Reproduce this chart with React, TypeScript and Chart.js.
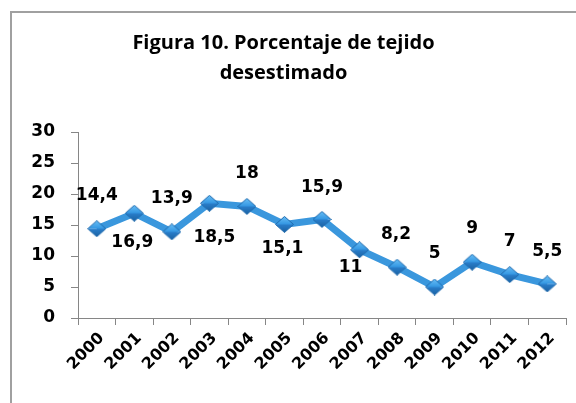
import React, { useEffect, useRef } from "react";
import { Chart, registerables } from "chart.js";

Chart.register(...registerables);

const years = ["2000", "2001", "2002", "2003", "2004", "2005", "2006", "2007", "2008", "2009", "2010", "2011", "2012"];
const porcentaje = [14.4, 16.9, 13.9, 18.5, 18, 15.1, 15.9, 11, 8.2, 5, 9, 7, 5.5];
const labelTexts = ["14,4", "16,9", "13,9", "18,5", "18", "15,1", "15,9", "11", "8,2", "5", "9", "7", "5,5"];
const titleLines = ["Figura 10. Porcentaje de tejido", "desestimado"];

// label offsets relative to each point (style only)
const labelDx = [0, -2, 0, 5, 0, -2, 0, -9, -1, 0, 0, 0, 0];
const labelDy = [-33, 29, -33, 34, -33, 24, -32, 18, -33, -33, -34, -33, -32];

const TITLE_FONT = "'Open Sans', Lato, sans-serif";
const NUM_FONT = "'DejaVu Sans', sans-serif";

function makeDiamond(): HTMLCanvasElement {
  const w = 19;
  const h = 17;
  const c = document.createElement("canvas");
  c.width = w;
  c.height = h;
  const g = c.getContext("2d")!;
  const cx = w / 2;
  const cy = h / 2;
  g.beginPath();
  g.moveTo(0.5, cy);
  g.lineTo(cx, 0.5);
  g.lineTo(w - 0.5, cy);
  g.closePath();
  const gt = g.createLinearGradient(0, 0, 0, cy);
  gt.addColorStop(0, "#6cc0f7");
  gt.addColorStop(1, "#3296e2");
  g.fillStyle = gt;
  g.fill();
  g.beginPath();
  g.moveTo(0.5, cy);
  g.lineTo(cx, h - 0.5);
  g.lineTo(w - 0.5, cy);
  g.closePath();
  const gb = g.createLinearGradient(0, cy, 0, h);
  gb.addColorStop(0, "#2a7fcc");
  gb.addColorStop(1, "#1a5f9f");
  g.fillStyle = gb;
  g.fill();
  g.beginPath();
  g.moveTo(0.5, cy);
  g.lineTo(cx, 0.5);
  g.lineTo(w - 0.5, cy);
  g.lineTo(cx, h - 0.5);
  g.closePath();
  g.strokeStyle = "#1f6aad";
  g.lineWidth = 1;
  g.stroke();
  return c;
}

const dataLabelPlugin = {
  id: "dataLabelsCustom",
  afterDatasetsDraw(chart: any) {
    const ctx = chart.ctx;
    const meta = chart.getDatasetMeta(0);
    ctx.save();
    ctx.font = `bold 17px ${NUM_FONT}`;
    ctx.fillStyle = "#000000";
    ctx.textAlign = "center";
    ctx.textBaseline = "middle";
    meta.data.forEach((pt: any, i: number) => {
      ctx.fillText(labelTexts[i], pt.x + labelDx[i], pt.y + labelDy[i]);
    });
    ctx.restore();
  },
};

export default function App() {
  const canvasRef = useRef<HTMLCanvasElement | null>(null);

  useEffect(() => {
    if (!canvasRef.current) return;
    const diamond = makeDiamond();
    const chart = new Chart(canvasRef.current, {
      type: "line",
      data: {
        labels: years,
        datasets: [
          {
            data: porcentaje,
            borderColor: "#3A97DD",
            borderWidth: 7,
            tension: 0,
            pointStyle: diamond as any,
            pointRadius: 9,
            pointHoverRadius: 9,
            pointBackgroundColor: "#2F8BD9",
            pointBorderColor: "#1E6BAF",
            pointBorderWidth: 1,
          },
        ],
      },
      options: {
        responsive: false,
        animation: false,
        layout: { padding: { left: 0, right: 9, top: 0, bottom: 0 } },
        plugins: {
          legend: { display: false },
          tooltip: { enabled: false },
          title: {
            display: true,
            text: titleLines,
            color: "#000000",
            font: { family: TITLE_FONT, size: 20, weight: "bold", lineHeight: 1.5 },
            padding: { top: 28, bottom: 44 },
          },
        },
        scales: {
          x: {
            type: "category",
            offset: true,
            grid: {
              offset: true,
              drawOnChartArea: false,
              drawTicks: true,
              tickLength: 7,
              color: "#868686",
            },
            border: { display: true, color: "#868686", width: 1 },
            ticks: {
              autoSkip: false,
              maxRotation: 45,
              minRotation: 45,
              padding: 4,
              labelOffset: 5,
              color: "#000000",
              font: { family: NUM_FONT, size: 16, weight: "bold" },
            },
            afterFit: (s: any) => {
              s.height = 85;
            },
          },
          y: {
            min: 0,
            max: 30,
            ticks: {
              stepSize: 5,
              padding: 16,
              color: "#000000",
              font: { family: NUM_FONT, size: 17, weight: "bold" },
            },
            grid: {
              drawOnChartArea: false,
              drawTicks: true,
              tickLength: 7,
              color: "#868686",
            },
            border: { display: true, color: "#868686", width: 1 },
            afterFit: (s: any) => {
              s.width = 78;
            },
          },
        },
      },
      plugins: [dataLabelPlugin],
    });
    return () => chart.destroy();
  }, []);

  return (
    <div
      style={{
        position: "fixed",
        left: 0,
        top: 0,
        width: 576,
        height: 403,
        background: "#ffffff",
        overflow: "hidden",
      }}
    >
      <div
        style={{
          position: "absolute",
          left: 10,
          top: 11,
          width: 700,
          height: 600,
          borderLeft: "2px solid #a0a0a0",
          borderTop: "2px solid #a0a0a0",
        }}
      />
      <canvas
        ref={canvasRef}
        width={576}
        height={403}
        style={{ position: "absolute", left: 0, top: 0, width: 576, height: 403 }}
      />
    </div>
  );
}
